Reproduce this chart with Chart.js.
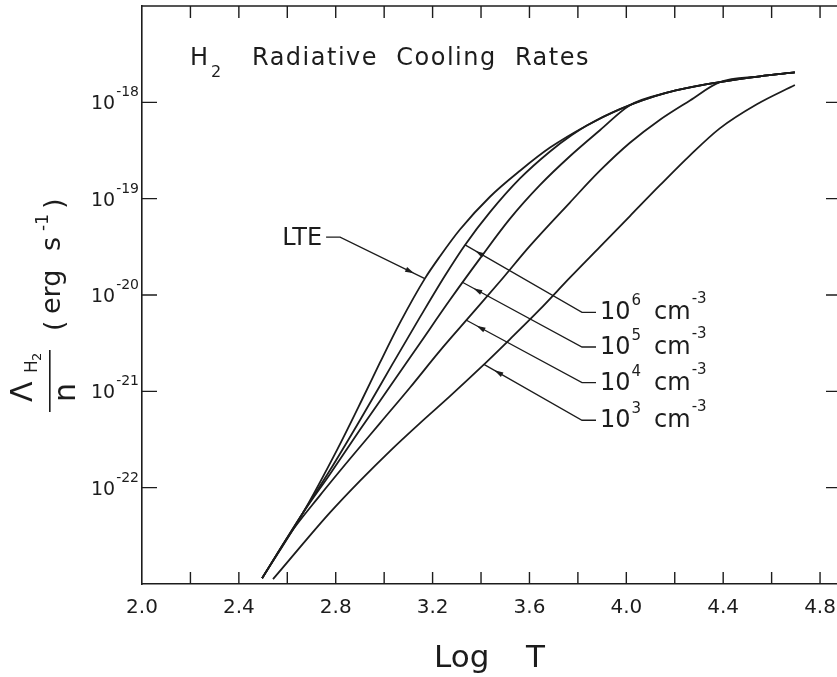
<!DOCTYPE html>
<html>
<head>
<meta charset="utf-8">
<script src="https://cdn.jsdelivr.net/npm/chart.js@4.4.0/dist/chart.umd.min.js"></script>
<style>
  html, body { margin: 0; padding: 0; background: #fff; overflow: hidden; }
  #wrap { width: 837px; height: 677px; }
</style>
</head>
<body>
<div id="wrap"><canvas id="cooling" width="837" height="677"></canvas></div>
<script>
const ink = '#1c1c1c';
const fontFamily = '"DejaVu Sans", "Liberation Sans", sans-serif';

// x axis: log T
const xTickValues = [2.2, 2.4, 2.6, 2.8, 3.0, 3.2, 3.4, 3.6, 3.8, 4.0, 4.2, 4.4, 4.6, 4.8];
const xTickLabels = ['2.0', '2.4', '2.8', '3.2', '3.6', '4.0', '4.4', '4.8'];
// y axis: decades of Lambda/n (erg s^-1)
const yTickExponents = [-18, -19, -20, -21, -22];

// curves, as log T and log(Lambda/n)
const lteLogT = [2.496, 2.665, 2.805, 2.908, 2.983, 3.065, 3.168, 3.230, 3.313, 3.437, 3.561, 3.685, 3.837, 3.974, 4.168, 4.386, 4.552, 4.696];
const lteLogL = [-22.94, -22.26, -21.61, -21.09, -20.70, -20.29, -19.83, -19.60, -19.32, -18.98, -18.71, -18.47, -18.24, -18.07, -17.90, -17.79, -17.73, -17.69];

const n6LogT = [2.496, 2.665, 2.776, 2.900, 3.036, 3.148, 3.251, 3.334, 3.437, 3.561, 3.685, 3.775, 3.837, 3.974, 4.168, 4.386, 4.552, 4.696];
const n6LogL = [-22.94, -22.26, -21.82, -21.30, -20.71, -20.23, -19.80, -19.48, -19.14, -18.79, -18.51, -18.34, -18.24, -18.07, -17.90, -17.79, -17.73, -17.69];

const n5LogT = [2.496, 2.665, 2.776, 2.900, 3.024, 3.148, 3.272, 3.396, 3.519, 3.643, 3.767, 3.891, 4.015, 4.168, 4.386, 4.552, 4.696];
const n5LogL = [-22.94, -22.26, -21.86, -21.40, -20.95, -20.50, -20.05, -19.62, -19.21, -18.86, -18.56, -18.29, -18.03, -17.90, -17.79, -17.73, -17.69];

const n4LogT = [2.496, 2.611, 2.735, 2.859, 2.983, 3.107, 3.230, 3.354, 3.478, 3.602, 3.767, 3.891, 4.015, 4.139, 4.263, 4.386, 4.552, 4.696];
const n4LogL = [-22.94, -22.48, -22.08, -21.70, -21.33, -20.96, -20.58, -20.22, -19.86, -19.49, -19.04, -18.71, -18.42, -18.18, -17.98, -17.79, -17.73, -17.69];

const n3LogT = [2.541, 2.652, 2.776, 2.900, 3.024, 3.148, 3.272, 3.396, 3.519, 3.643, 3.767, 3.891, 4.015, 4.139, 4.263, 4.386, 4.539, 4.696];
const n3LogL = [-22.95, -22.62, -22.26, -21.93, -21.62, -21.33, -21.05, -20.76, -20.46, -20.15, -19.82, -19.50, -19.18, -18.86, -18.55, -18.27, -18.02, -17.82];

// labels with their pointer lines (tip on the curve, elbow near the label)
const pointerBase = ['LTE', '10', '10', '10', '10'];
const pointerExponent = ['', '6', '5', '4', '3'];
const pointerTipT = [3.168, 3.334, 3.325, 3.338, 3.412];
const pointerTipL = [-19.83, -19.48, -19.87, -20.26, -20.72];
const pointerElbowT = [2.818, 3.817, 3.817, 3.817, 3.817];
const pointerElbowL = [-19.40, -20.18, -20.54, -20.91, -21.30];

function toPoints(logT, logL) {
    return logT.map((t, i) => ({ x: t, y: Math.pow(10, logL[i]) }));
}

function font(size) {
    return size + 'px ' + fontFamily;
}

// draws base text followed by a raised exponent, returns the end x
function drawPower(ctx, x, yBase, base, exp, baseSize, expSize, rise) {
    ctx.font = font(baseSize);
    ctx.fillText(base, x, yBase);
    const wb = ctx.measureText(base).width;
    ctx.font = font(expSize);
    ctx.fillText(exp, x + wb + 1, yBase - rise);
    return x + wb + 1 + ctx.measureText(exp).width;
}

function powerWidth(ctx, base, exp, baseSize, expSize) {
    ctx.font = font(baseSize);
    const wb = ctx.measureText(base).width;
    ctx.font = font(expSize);
    return wb + 1 + ctx.measureText(exp).width;
}

const framePlugin = {
    id: 'frame',
    afterDraw(chart) {
        const { ctx, chartArea: a, scales: { x, y } } = chart;
        ctx.save();
        ctx.strokeStyle = ink;
        ctx.fillStyle = ink;
        ctx.lineCap = 'butt';

        // top edge of the box
        ctx.lineWidth = 1.6;
        ctx.beginPath();
        ctx.moveTo(a.left, a.top);
        ctx.lineTo(a.right, a.top);
        ctx.stroke();

        // ticks point inward on all sides
        ctx.lineWidth = 1.4;
        xTickValues.forEach(v => {
            const px = x.getPixelForValue(v);
            ctx.beginPath();
            ctx.moveTo(px, a.bottom);
            ctx.lineTo(px, a.bottom - 12);
            ctx.moveTo(px, a.top);
            ctx.lineTo(px, a.top + 12);
            ctx.stroke();
        });
        yTickExponents.forEach(e => {
            const py = y.getPixelForValue(Math.pow(10, e));
            ctx.beginPath();
            ctx.moveTo(a.left, py);
            ctx.lineTo(a.left + 15, py);
            ctx.moveTo(a.right, py);
            ctx.lineTo(a.right - 11, py);
            ctx.stroke();
        });

        // tick labels
        ctx.textAlign = 'center';
        ctx.textBaseline = 'alphabetic';
        ctx.font = font(20);
        xTickLabels.forEach(label => {
            ctx.fillText(label, x.getPixelForValue(parseFloat(label)), a.bottom + 29);
        });
        ctx.textAlign = 'left';
        yTickExponents.forEach(e => {
            const py = y.getPixelForValue(Math.pow(10, e));
            const w = powerWidth(ctx, '10', String(e), 19, 14);
            drawPower(ctx, a.left - 3 - w, py + 7, '10', String(e), 19, 14, 13);
        });

        // title
        ctx.font = font(24);
        ctx.fillText('H', 190, 65);
        ctx.font = font(16);
        ctx.fillText('2', 211, 77);
        ctx.font = font(24);
        ctx.letterSpacing = '1.5px';
        ctx.fillText('Radiative  Cooling  Rates', 252, 65);
        ctx.letterSpacing = '0px';

        // x axis title
        ctx.font = font(31);
        ctx.fillText('Log', 434, 667);
        ctx.fillText('T', 526, 667);

        // y axis title, written bottom to top
        ctx.save();
        ctx.rotate(-Math.PI / 2);
        ctx.font = font(30);
        ctx.fillText('\u039B', -402, 32);
        ctx.font = font(17);
        ctx.fillText('H', -373, 37);
        ctx.font = font(13);
        ctx.fillText('2', -361, 41);
        ctx.fillRect(-412, 49, 62, 1.6);
        ctx.font = font(30);
        ctx.fillText('n', -402, 75);
        ctx.font = font(27);
        ctx.fillText('(', -331, 63);
        ctx.fillText('erg', -314, 60);
        ctx.fillText('s', -251, 60);
        ctx.font = font(17);
        ctx.fillText('-1', -231, 48);
        ctx.font = font(27);
        ctx.fillText(')', -209, 63);
        ctx.restore();

        // pointer lines and their labels
        ctx.lineWidth = 1.3;
        pointerTipT.forEach((t, i) => {
            const tx = x.getPixelForValue(t);
            const ty = y.getPixelForValue(Math.pow(10, pointerTipL[i]));
            const ex = x.getPixelForValue(pointerElbowT[i]);
            const ey = y.getPixelForValue(Math.pow(10, pointerElbowL[i]));
            const dir = i === 0 ? -1 : 1;
            const sx = ex + dir * 14;
            ctx.beginPath();
            ctx.moveTo(tx, ty);
            ctx.lineTo(ex, ey);
            ctx.lineTo(sx, ey);
            ctx.stroke();

            // arrow head a little before the curve
            const ang = Math.atan2(ty - ey, tx - ex);
            const c = Math.cos(ang), s = Math.sin(ang);
            const hx = tx - c * 12, hy = ty - s * 12;
            ctx.beginPath();
            ctx.moveTo(hx, hy);
            ctx.lineTo(hx - c * 9 + s * 2.6, hy - s * 9 - c * 2.6);
            ctx.lineTo(hx - c * 9 - s * 2.6, hy - s * 9 + c * 2.6);
            ctx.closePath();
            ctx.fill();

            if (i === 0) {
                ctx.font = font(24);
                ctx.textAlign = 'right';
                ctx.fillText(pointerBase[i], sx - 4, ey + 8);
                ctx.textAlign = 'left';
            } else {
                const end = drawPower(ctx, sx + 4, ey + 7, pointerBase[i], pointerExponent[i], 24, 15, 14);
                drawPower(ctx, end + 13, ey + 7, 'cm', '-3', 24, 15, 16);
            }
        });

        ctx.restore();
    }
};

const curveColor = '#1c1c1c';
const datasets = [
    { label: 'LTE', data: toPoints(lteLogT, lteLogL) },
    { label: '1e6 cm-3', data: toPoints(n6LogT, n6LogL) },
    { label: '1e5 cm-3', data: toPoints(n5LogT, n5LogL) },
    { label: '1e4 cm-3', data: toPoints(n4LogT, n4LogL) },
    { label: '1e3 cm-3', data: toPoints(n3LogT, n3LogL) }
].map(d => Object.assign(d, {
    borderColor: curveColor,
    borderWidth: 1.8,
    pointRadius: 0,
    fill: false,
    cubicInterpolationMode: 'monotone'
}));

new Chart(document.getElementById('cooling'), {
    type: 'line',
    data: { datasets: datasets },
    options: {
        responsive: false,
        animation: false,
        layout: { padding: { left: 142, top: 6, right: 0, bottom: 93 } },
        plugins: {
            legend: { display: false },
            tooltip: { enabled: false }
        },
        scales: {
            x: {
                type: 'linear',
                min: 2.0,
                max: 4.87,
                ticks: { display: false },
                grid: { display: false, drawTicks: false },
                border: { display: true, color: ink, width: 1.6 }
            },
            y: {
                type: 'logarithmic',
                min: 1e-23,
                max: 1e-17,
                ticks: { display: false },
                grid: { display: false, drawTicks: false },
                border: { display: true, color: ink, width: 1.6 }
            }
        }
    },
    plugins: [framePlugin]
});
</script>
</body>
</html>
